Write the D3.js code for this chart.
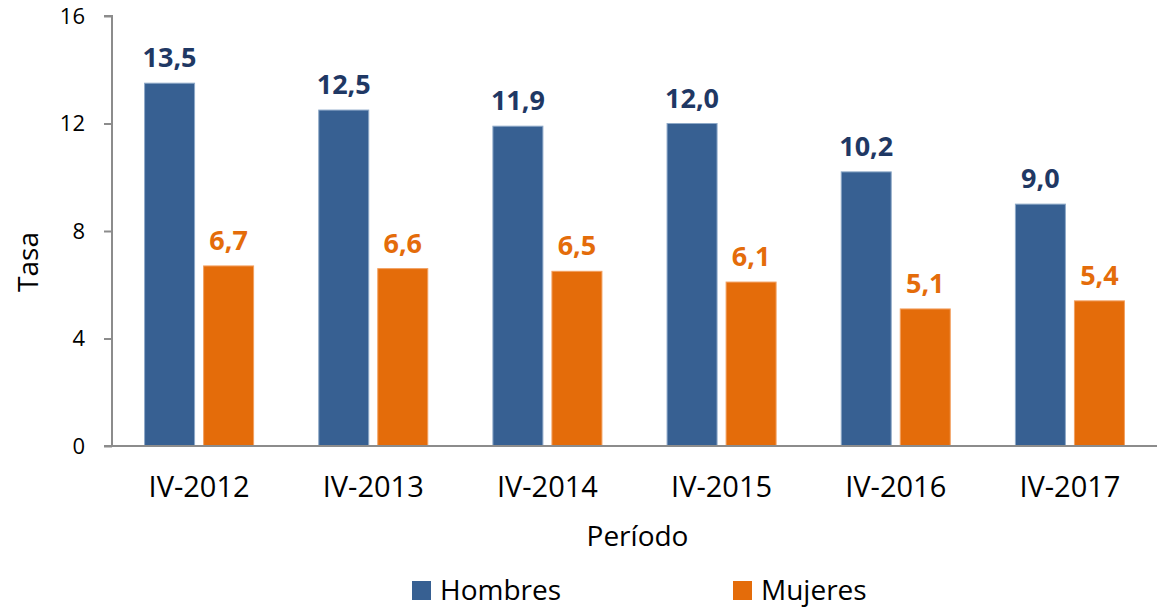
<!DOCTYPE html>
<html>
<head>
<meta charset="utf-8">
<script src="https://cdn.jsdelivr.net/npm/d3@7"></script>
<style>
    body { margin: 0; background: #fff; }
    text { font-family: "Open Sans", "Noto Sans", sans-serif; }
</style>
</head>
<body>
<div id="chart"></div>
<script>
// Data
const periods = ['IV-2012', 'IV-2013', 'IV-2014', 'IV-2015', 'IV-2016', 'IV-2017'];
const hombres = [13.5, 12.5, 11.9, 12.0, 10.2, 9.0];
const mujeres = [6.7, 6.6, 6.5, 6.1, 5.1, 5.4];
const seriesNames = ['Hombres', 'Mujeres'];
const yTicks = [0, 4, 8, 12, 16];

const width = 1165, height = 607;
const margin = { top: 16, right: 8, bottom: 161, left: 112 };
const innerW = width - margin.left - margin.right;
const innerH = height - margin.top - margin.bottom;

const fills = { Hombres: '#376092', Mujeres: '#E46C0A' };
const strokes = { Hombres: '#8EA9C8', Mujeres: '#F2A060' };
const labelColors = { Hombres: '#1F3864', Mujeres: '#E46C0A' };

const svg = d3.select('#chart')
    .append('svg')
    .attr('width', width)
    .attr('height', height);

const g = svg.append('g')
    .attr('transform', `translate(${margin.left},${margin.top})`);

const x0 = d3.scaleBand()
    .domain(periods)
    .range([0, innerW])
    .paddingInner(0)
    .paddingOuter(0);

// two bars of ~50px with a 9px gap in each 174px band
const x1 = d3.scaleBand()
    .domain(seriesNames)
    .range([x0.bandwidth() * 0.187, x0.bandwidth() * 0.813])
    .paddingInner(0.153);

const y = d3.scaleLinear()
    .domain([0, 16])
    .range([innerH, 0]);

const rows = periods.map((p, i) => ({
    period: p,
    values: [
        { key: 'Hombres', value: hombres[i] },
        { key: 'Mujeres', value: mujeres[i] }
    ]
}));

// Bars
const groups = g.selectAll('.group')
    .data(rows)
    .enter().append('g')
    .attr('class', 'group')
    .attr('transform', d => `translate(${x0(d.period)},0)`);

groups.selectAll('rect')
    .data(d => d.values)
    .enter().append('rect')
    .attr('x', d => x1(d.key))
    .attr('y', d => y(d.value))
    .attr('width', x1.bandwidth())
    .attr('height', d => innerH - y(d.value))
    .attr('fill', d => fills[d.key])
    .attr('stroke', d => strokes[d.key])
    .attr('stroke-width', 1);

// Value labels
groups.selectAll('.val')
    .data(d => d.values)
    .enter().append('text')
    .attr('class', 'val')
    .attr('x', d => x1(d.key) + x1.bandwidth() / 2)
    .attr('y', d => y(d.value) - 16)
    .attr('text-anchor', 'middle')
    .attr('font-size', 27)
    .attr('font-weight', 'bold')
    .attr('fill', d => labelColors[d.key])
    .text(d => d.value.toFixed(1).replace('.', ','));

// Y axis
const yAxis = g.append('g')
    .call(d3.axisLeft(y).tickValues(yTicks).tickSize(8).tickPadding(19));
yAxis.select('.domain').attr('stroke', '#8c8c8c').attr('stroke-width', 2)
    .attr('d', `M0,${innerH}V0H-8`);
yAxis.selectAll('.tick line').attr('stroke', '#8c8c8c').attr('stroke-width', 2);
yAxis.selectAll('.tick text')
    .attr('font-size', 22)
    .attr('fill', '#000')
    .style('font-family', '"Open Sans", sans-serif');

// X axis
const xAxis = g.append('g')
    .attr('transform', `translate(0,${innerH})`)
    .call(d3.axisBottom(x0).tickSize(0).tickPadding(30));
xAxis.select('.domain').attr('stroke', '#8c8c8c').attr('stroke-width', 2)
    .attr('d', `M-8,0H${innerW}`);
xAxis.selectAll('.tick text')
    .attr('font-size', 29)
    .attr('fill', '#000')
    .attr('dy', '0.71em')
    .style('font-family', '"Open Sans", sans-serif');

// Axis titles
svg.append('text')
    .attr('x', margin.left + innerW / 2 + 3)
    .attr('y', 546)
    .attr('text-anchor', 'middle')
    .attr('font-size', 28)
    .text('Período');

svg.append('text')
    .attr('transform', 'translate(38,262) rotate(-90)')
    .attr('text-anchor', 'middle')
    .attr('font-size', 28)
    .text('Tasa');

// Legend
const legendX = [412, 733];
const legend = svg.selectAll('.legend')
    .data(seriesNames)
    .enter().append('g')
    .attr('class', 'legend')
    .attr('transform', (d, i) => `translate(${legendX[i]},581)`);

legend.append('rect')
    .attr('width', 19)
    .attr('height', 19)
    .attr('fill', d => fills[d]);

legend.append('text')
    .attr('x', 28)
    .attr('y', 19)
    .attr('font-size', 28)
    .text(d => d);
</script>
</body>
</html>
